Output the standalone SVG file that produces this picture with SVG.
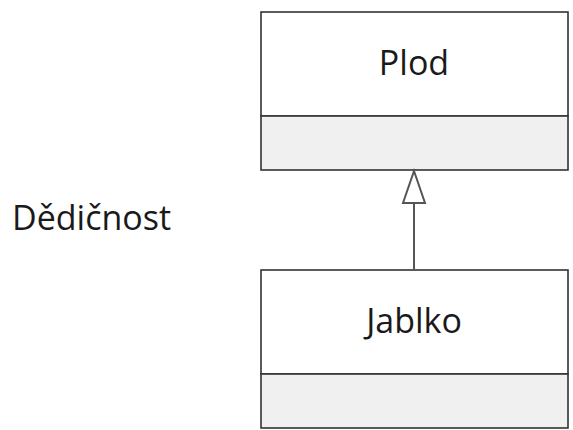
<svg xmlns="http://www.w3.org/2000/svg" width="573" height="430" viewBox="0 0 573 430">
<style>
.box{fill:#ffffff;stroke:#333333;stroke-width:1.6}
.comp{fill:#f0f0f0;stroke:#333333;stroke-width:1.6}
.lbl{font-family:"Open Sans","Noto Sans",sans-serif;font-size:34px;fill:#1a1a1a}
.conn{stroke:#555555;stroke-width:2;fill:none}
.head{fill:#ffffff;stroke:#555555;stroke-width:2;stroke-linejoin:miter}
</style>
<rect width="573" height="430" fill="#ffffff"/>
<text class="lbl" x="12" y="230">Dědičnost</text>
<g id="plod">
<rect class="box" x="261" y="12" width="307" height="104"/>
<rect class="comp" x="261" y="116" width="307" height="54"/>
<text class="lbl" x="414" y="75" text-anchor="middle">Plod</text>
</g>
<g id="jablko">
<rect class="box" x="261" y="270" width="307" height="104"/>
<rect class="comp" x="261" y="374" width="307" height="54"/>
<text class="lbl" x="414" y="333" text-anchor="middle">Jablko</text>
</g>
<g id="connectors">
<line class="conn" x1="414" y1="270" x2="414" y2="203"/>
<polygon class="head" points="414,171 403,203 425,203"/>
</g>
</svg>
